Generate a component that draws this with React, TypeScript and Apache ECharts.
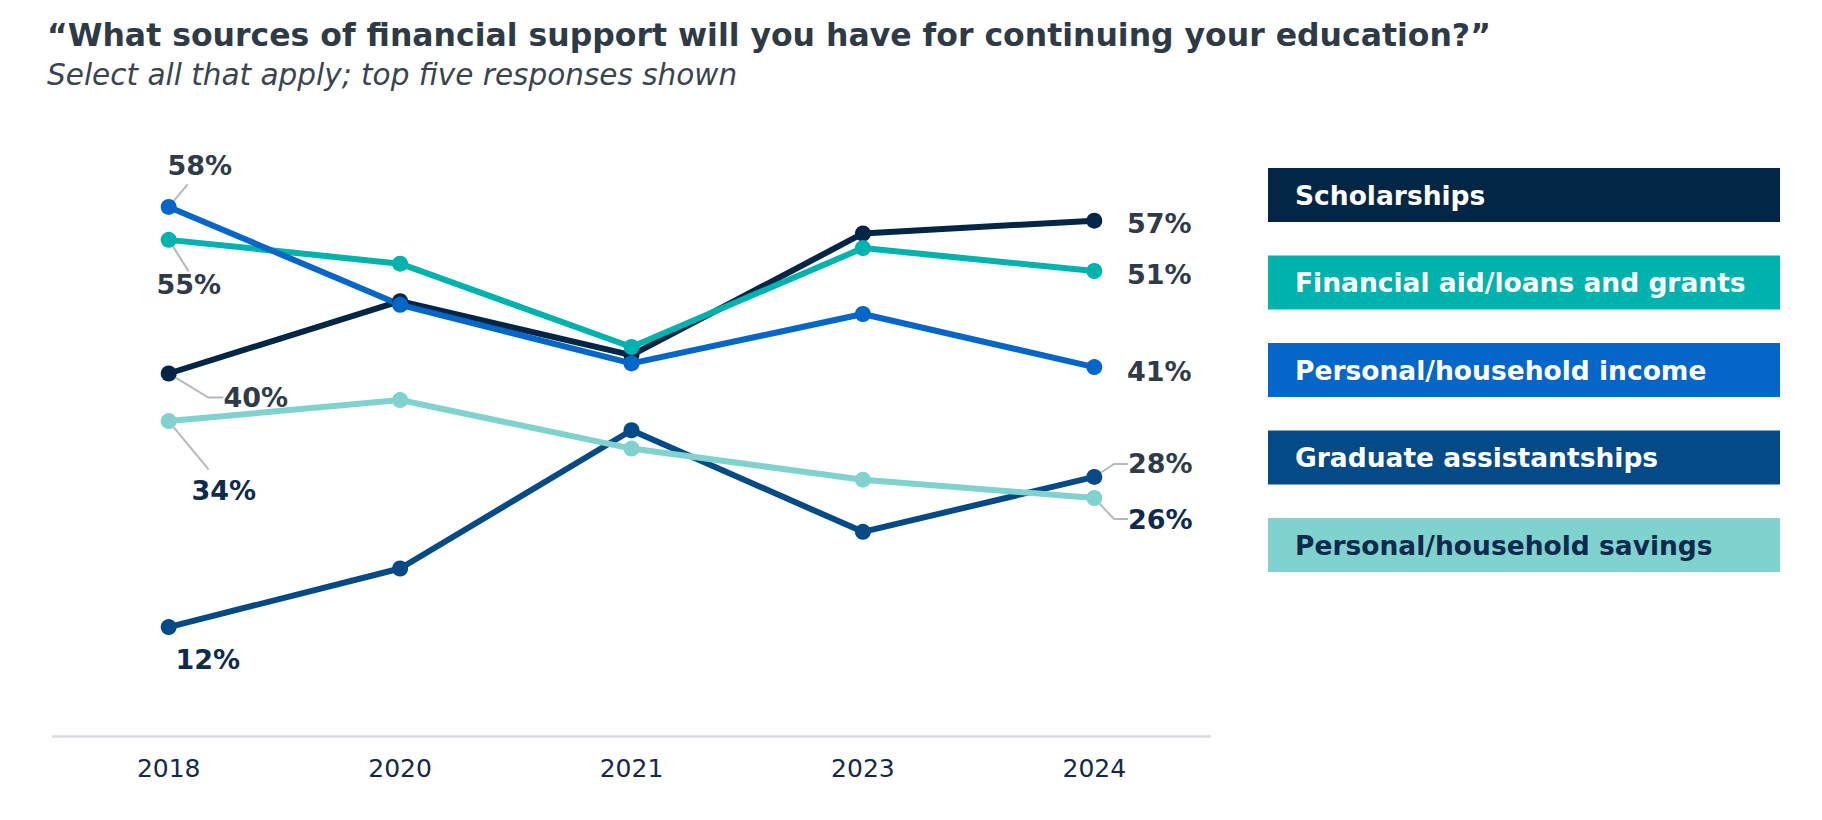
import React, { useEffect, useRef } from 'react';
import * as echarts from 'echarts';

// survey years
const years = ['2018', '2020', '2021', '2023', '2024'];

// share of respondents (%)
const scholarships = [39.6, 47.5, 41.6, 54.9, 56.3];
const financialAid = [54.2, 51.6, 42.5, 53.3, 50.8];
const householdIncome = [57.8, 47.1, 40.7, 46.1, 40.3];
const gradAssistantships = [11.9, 18.3, 33.4, 22.3, 28.3];
const householdSavings = [34.4, 36.7, 31.4, 28.0, 26.0];

// values printed next to the first and last points
const scholarshipsLabels = [40, 57];
const financialAidLabels = [55, 51];
const householdIncomeLabels = [58, 41];
const gradAssistantshipsLabels = [12, 28];
const householdSavingsLabels = [34, 26];

const seriesNames = [
  'Scholarships',
  'Financial aid/loans and grants',
  'Personal/household income',
  'Graduate assistantships',
  'Personal/household savings',
];
const seriesValues = [scholarships, financialAid, householdIncome, gradAssistantships, householdSavings];
const endLabels = [
  scholarshipsLabels,
  financialAidLabels,
  householdIncomeLabels,
  gradAssistantshipsLabels,
  householdSavingsLabels,
];
const seriesColors = ['#032546', '#00b2ad', '#0466c8', '#034a86', '#80d2cf'];

const FONT = '"DejaVu Sans", Verdana, sans-serif';
const GRAY_TEXT = '#2f3b48';
const NAVY_TEXT = '#0e2a4c';

// label offsets from the point centre: [first, last] per series
const labelOffsets = [
  [[87, 24], [65, 3]],
  [[20, 45], [65, 4]],
  [[19, -41], [65, 4]],
  [[39, 32], [66, -13]],
  [[40, 69], [66, 21]],
];
// invisible padding steers where the leader line attaches
const labelPadding = [
  [0, 0],
  [0, 0],
  [[0, 0, 10, 24], 0],
  [0, 0],
  [[14, 0, 0, 30], 0],
];
// leader line second-segment length (null = no leader)
const leaderLen = [
  [15, null],
  [0, null],
  [0, null],
  [null, 14],
  [0, 14],
];
const labelColors = [
  [GRAY_TEXT, GRAY_TEXT],
  [GRAY_TEXT, GRAY_TEXT],
  [GRAY_TEXT, GRAY_TEXT],
  [NAVY_TEXT, GRAY_TEXT],
  [NAVY_TEXT, NAVY_TEXT],
];

function App() {
  const chartRef = useRef<HTMLDivElement | null>(null);

  useEffect(() => {
    if (!chartRef.current) return undefined;
    const chart = echarts.init(chartRef.current, null, { renderer: 'svg' });

    const last = years.length - 1;

    const series = seriesValues.map((values, s) => ({
      name: seriesNames[s],
      type: 'line',
      data: values.map((v, i) => {
        const end = i === 0 ? 0 : i === last ? 1 : -1;
        if (end < 0) return { value: v, label: { show: false } };
        const len = leaderLen[s][end];
        const pad = labelPadding[s][end];
        return {
          value: v,
          label: {
            show: true,
            color: labelColors[s][end],
            padding: pad,
            backgroundColor: pad ? 'rgba(255,255,255,0)' : undefined,
            formatter: `${endLabels[s][end]}%`,
          },
          labelLine: {
            show: len !== null,
            length2: len ?? 0,
          },
        };
      }),
      symbol: 'circle',
      symbolSize: 16,
      lineStyle: { width: 6, color: seriesColors[s] },
      itemStyle: { color: seriesColors[s] },
      label: {
        position: 'inside',
        fontFamily: FONT,
        fontSize: 27,
        fontWeight: 'bold',
      },
      labelLine: {
        smooth: false,
        minTurnAngle: 0,
        lineStyle: { color: '#b3b9c0', width: 2 },
      },
      labelLayout: (p: any) => {
        const end = p.dataIndex === 0 ? 0 : 1;
        const [dx, dy] = labelOffsets[s][end];
        return { dx, dy };
      },
      emphasis: { disabled: true },
    }));

    // legend as coloured boxes on the right
    const legendBoxes = seriesNames.map((name, i) => ({
      type: 'group',
      left: 1268,
      top: 168 + i * 87.5,
      children: [
        {
          type: 'rect',
          shape: { x: 0, y: 0, width: 512, height: 54 },
          style: { fill: seriesColors[i] },
        },
        {
          type: 'text',
          x: 27,
          y: 27,
          style: {
            text: name,
            fill: i === seriesNames.length - 1 ? NAVY_TEXT : '#ffffff',
            font: `bold 26.5px ${FONT}`,
            verticalAlign: 'middle',
          },
        },
      ],
    }));

    chart.setOption({
      animation: false,
      title: [
        {
          text: '\u201cWhat sources of financial support will you have for continuing your education?\u201d',
          left: 42,
          top: 14,
          textStyle: { fontFamily: FONT, fontSize: 31.5, fontWeight: 'bold', color: '#2e3a46' },
        },
        {
          text: 'Select all that apply; top five responses shown',
          left: 42,
          top: 55,
          textStyle: {
            fontFamily: FONT,
            fontSize: 29.5,
            fontStyle: 'italic',
            fontWeight: 'normal',
            color: '#3a4450',
          },
        },
      ],
      grid: { left: 53, right: 612, top: 141, bottom: 84, containLabel: false },
      xAxis: {
        type: 'category',
        data: years,
        boundaryGap: true,
        axisLine: { lineStyle: { color: '#d9dde2', width: 2.5 } },
        axisTick: { show: false },
        axisLabel: { fontFamily: FONT, fontSize: 25, color: '#14294a', margin: 20 },
      },
      yAxis: {
        type: 'value',
        min: 0,
        max: 65,
        show: false,
        splitLine: { show: false },
      },
      tooltip: { show: false },
      series,
      graphic: legendBoxes,
    });

    return () => {
      chart.dispose();
    };
  }, []);

  return (
    <div
      ref={chartRef}
      style={{ position: 'absolute', left: 0, top: 0, width: '1822px', height: '820px', background: '#ffffff' }}
    />
  );
}

export default App;
